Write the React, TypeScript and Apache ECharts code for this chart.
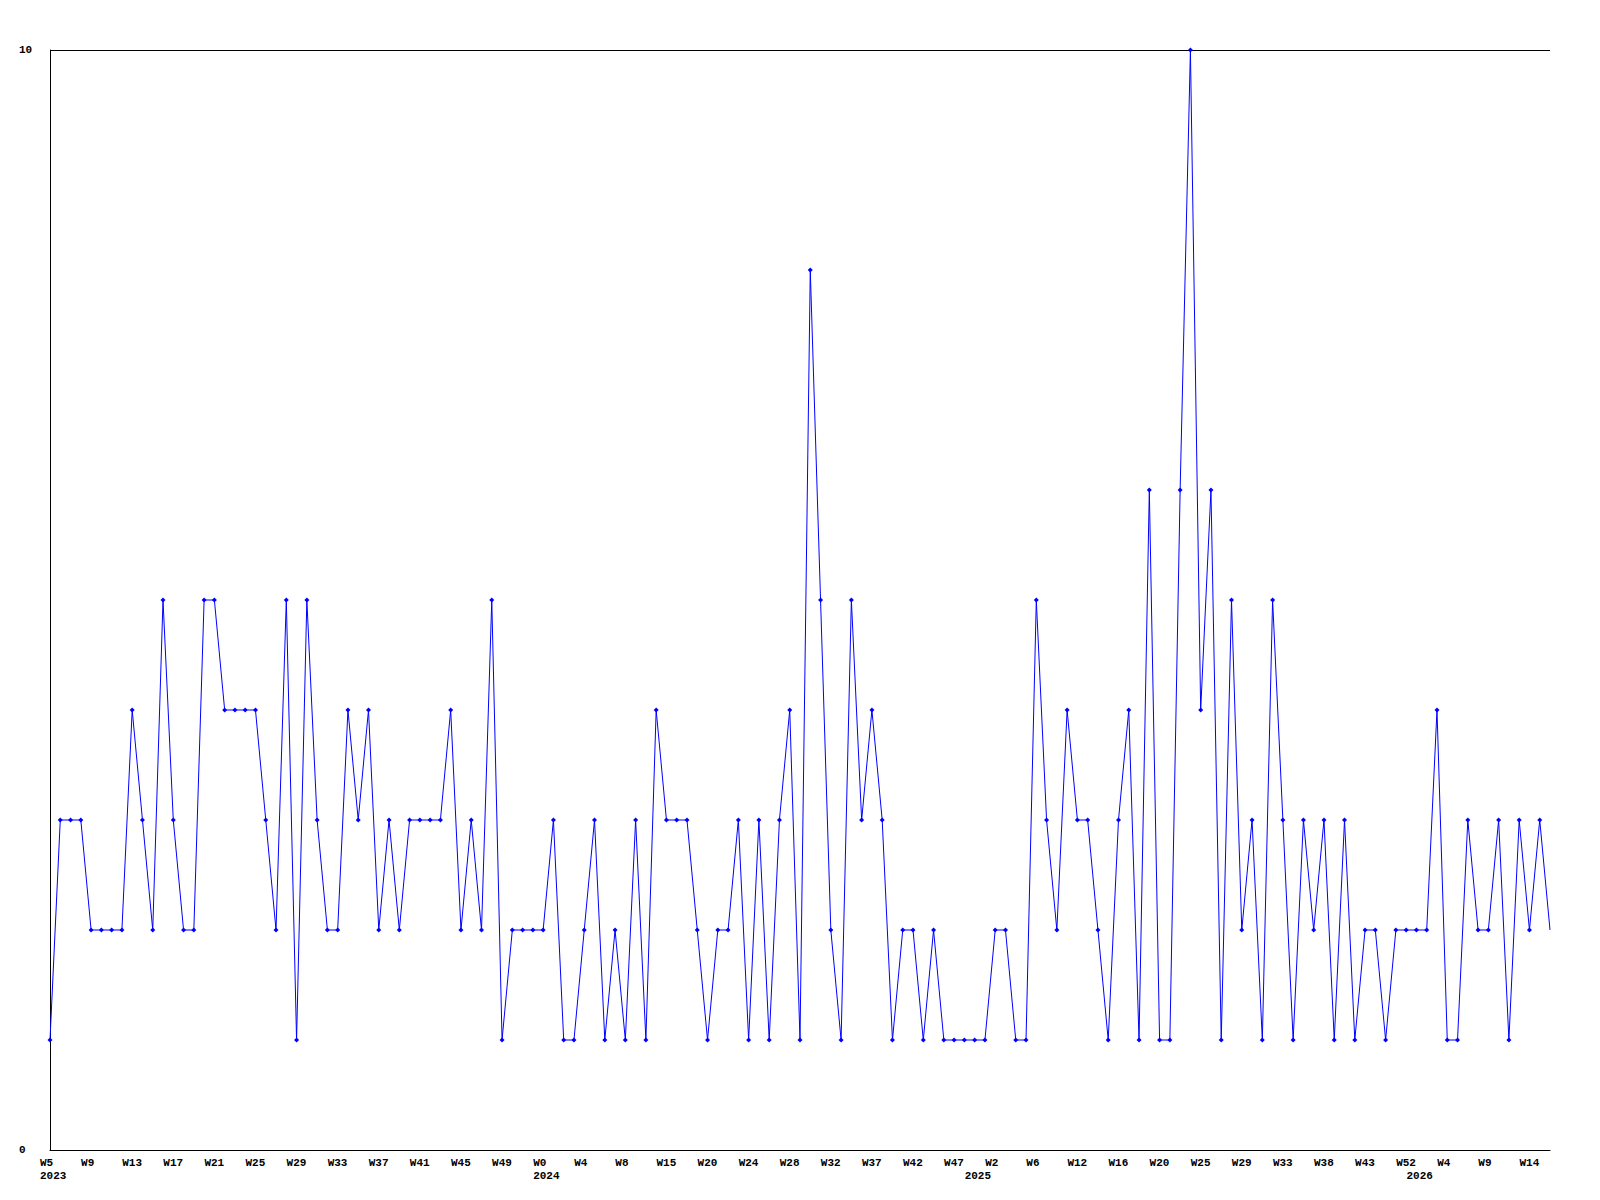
import React, { useEffect, useRef } from "react";
import * as echarts from "echarts";

// Weekly values (147 consecutive points)
const values: number[] = [
  1, 3, 3, 3, 2, 2, 2, 2, 4, 3, 2, 5, 3, 2, 2, 5, 5, 4, 4, 4,
  4, 3, 2, 5, 1, 5, 3, 2, 2, 4, 3, 4, 2, 3, 2, 3, 3, 3, 3, 4,
  2, 3, 2, 5, 1, 2, 2, 2, 2, 3, 1, 1, 2, 3, 1, 2, 1, 3, 1, 4,
  3, 3, 3, 2, 1, 2, 2, 3, 1, 3, 1, 3, 4, 1, 8, 5, 2, 1, 5, 3,
  4, 3, 1, 2, 2, 1, 2, 1, 1, 1, 1, 1, 2, 2, 1, 1, 5, 3, 2, 4,
  3, 3, 2, 1, 3, 4, 1, 6, 1, 1, 6, 10, 4, 6, 1, 5, 2, 3, 1, 5,
  3, 1, 3, 2, 3, 1, 3, 1, 2, 2, 1, 2, 2, 2, 2, 4, 1, 1, 3, 2,
  2, 3, 1, 3, 2, 3, 2,
];

// Tick labels, one every 4 points
const weekLabels: string[] = [
  "W5", "W9", "W13", "W17", "W21", "W25", "W29", "W33", "W37", "W41", "W45", "W49",
  "W0", "W4", "W8", "W15", "W20", "W24", "W28", "W32", "W37", "W42", "W47",
  "W2", "W6", "W12", "W16", "W20", "W25", "W29", "W33", "W38", "W43", "W52",
  "W4", "W9", "W14",
];

// Year labels and the point index they sit under
const yearPointIndex: number[] = [0, 48, 90, 133];
const yearLabels: string[] = ["2023", "2024", "2025", "2026"];

const labelStep = 4;

export default function App() {
  const ref = useRef<HTMLDivElement>(null);

  useEffect(() => {
    if (!ref.current) return;
    const chart = echarts.init(ref.current, null, { renderer: "svg" });

    const categories = values.map((_, i) => `p${i}`);
    const showLabel = (idx: number): boolean =>
      idx % labelStep === 0 || yearPointIndex.indexOf(idx) >= 0;
    const labelFor = (idx: number): string => {
      const week = idx % labelStep === 0 ? weekLabels[idx / labelStep] ?? "" : "";
      const yi = yearPointIndex.indexOf(idx);
      return yi >= 0 ? `${week}\n${yearLabels[yi]}` : week;
    };

    const seriesData = values.map((v, i) =>
      i === values.length - 1 ? { value: v, symbol: "none" } : v
    );

    const font = {
      fontFamily: "Liberation Mono",
      fontWeight: "bold" as const,
      fontSize: 11,
      color: "#000",
    };

    chart.setOption({
      animation: false,
      backgroundColor: "#fff",
      grid: { left: 50, right: 50, top: 50, bottom: 50, containLabel: false },
      xAxis: {
        type: "category",
        data: categories,
        boundaryGap: false,
        axisLine: { show: true, lineStyle: { color: "#000", width: 1 } },
        axisTick: { show: false },
        splitLine: { show: false },
        axisLabel: {
          ...font,
          interval: (idx: number) => showLabel(idx),
          hideOverlap: false,
          align: "left",
          verticalAlign: "top",
          lineHeight: 13,
          margin: 6,
          padding: [0, 0, 0, -10],
          formatter: (_v: string, idx: number) => labelFor(idx),
        },
      },
      yAxis: {
        type: "value",
        min: 0,
        max: 10,
        interval: 10,
        axisLine: { show: true, lineStyle: { color: "#000", width: 1 } },
        axisTick: { show: false },
        splitLine: { show: true, lineStyle: { color: "#000", width: 1 } },
        axisLabel: {
          ...font,
          align: "left",
          margin: 31,
        },
      },
      series: [
        {
          type: "line",
          data: seriesData,
          symbol: "diamond",
          symbolSize: 5,
          showAllSymbol: true,
          lineStyle: { color: "#0000ff", width: 1 },
          itemStyle: { color: "#0000ff" },
          emphasis: { disabled: true },
        },
      ],
    });

    return () => chart.dispose();
  }, []);

  return (
    <div
      ref={ref}
      style={{ position: "fixed", left: 0, top: 0, width: 1600, height: 1200, background: "#fff" }}
    />
  );
}
